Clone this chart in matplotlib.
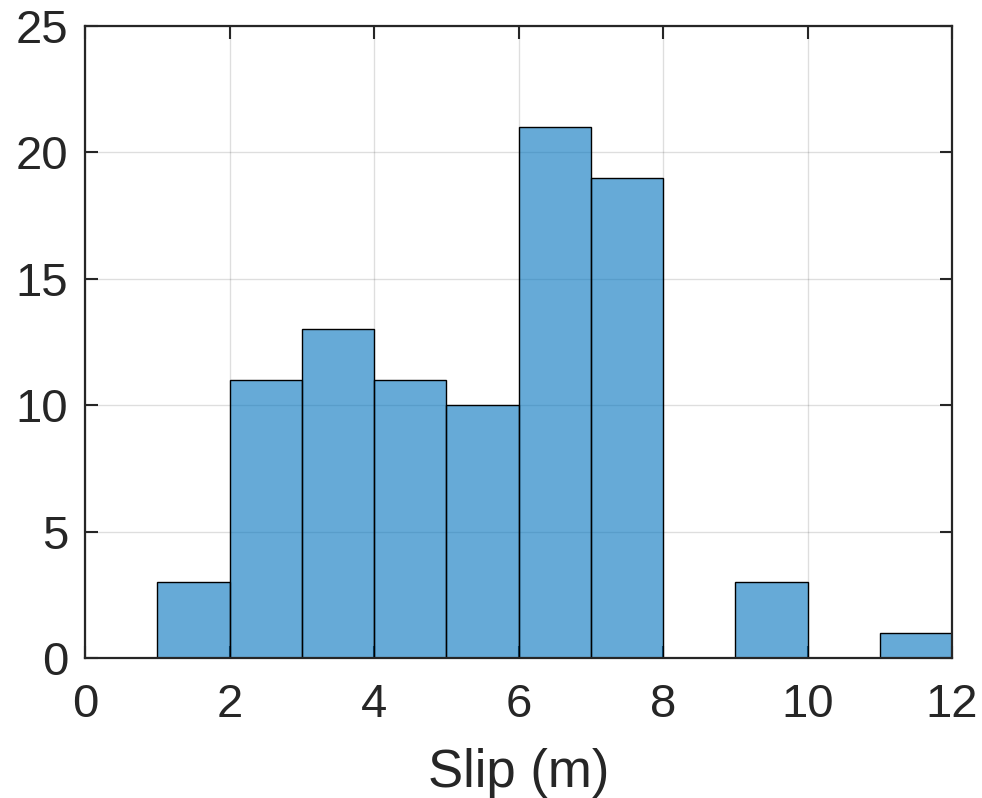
import matplotlib
matplotlib.use("Agg")
import matplotlib.pyplot as plt
import numpy as np

bin_edges = [1, 2, 3, 4, 5, 6, 7, 8, 9, 10, 11, 12]
counts = [3, 11, 13, 11, 10, 21, 19, 0, 3, 0, 1]
xticks = [0, 2, 4, 6, 8, 10, 12]
yticks = [0, 5, 10, 15, 20, 25]

plt.rcParams['font.family'] = ['Liberation Sans', 'DejaVu Sans']
fig = plt.figure(figsize=(9.82, 7.98), dpi=100)
ax = fig.add_axes([85/982, 1-658/798, (952-85)/982, (658-26)/798])

lefts = np.array(bin_edges[:-1])
widths = np.diff(bin_edges)
ax.bar(lefts, counts, width=widths, align='edge', color=(0, 0.447, 0.741, 0.6),
       edgecolor='black', linewidth=1.0, zorder=2)

ax.set_xlim(0, 12)
ax.set_ylim(0, 25)
ax.set_xticks(xticks)
ax.set_yticks(yticks)
ax.grid(True, color=(0.15, 0.15, 0.15), alpha=0.15, linewidth=1.0, zorder=0)
ax.set_axisbelow(True)
tc = '#262626'
ax.tick_params(direction='in', length=9, width=1.5, colors=tc, labelsize=34,
               top=True, right=True)
ax.tick_params(axis='x', pad=18)
ax.tick_params(axis='y', pad=12)
for s in ax.spines.values():
    s.set_color(tc)
    s.set_linewidth(1.6)
    s.set_zorder(5)
ax.set_xlabel('Slip (m)', fontsize=38, color=tc, labelpad=15)
fig.savefig('out.png', dpi=100)
